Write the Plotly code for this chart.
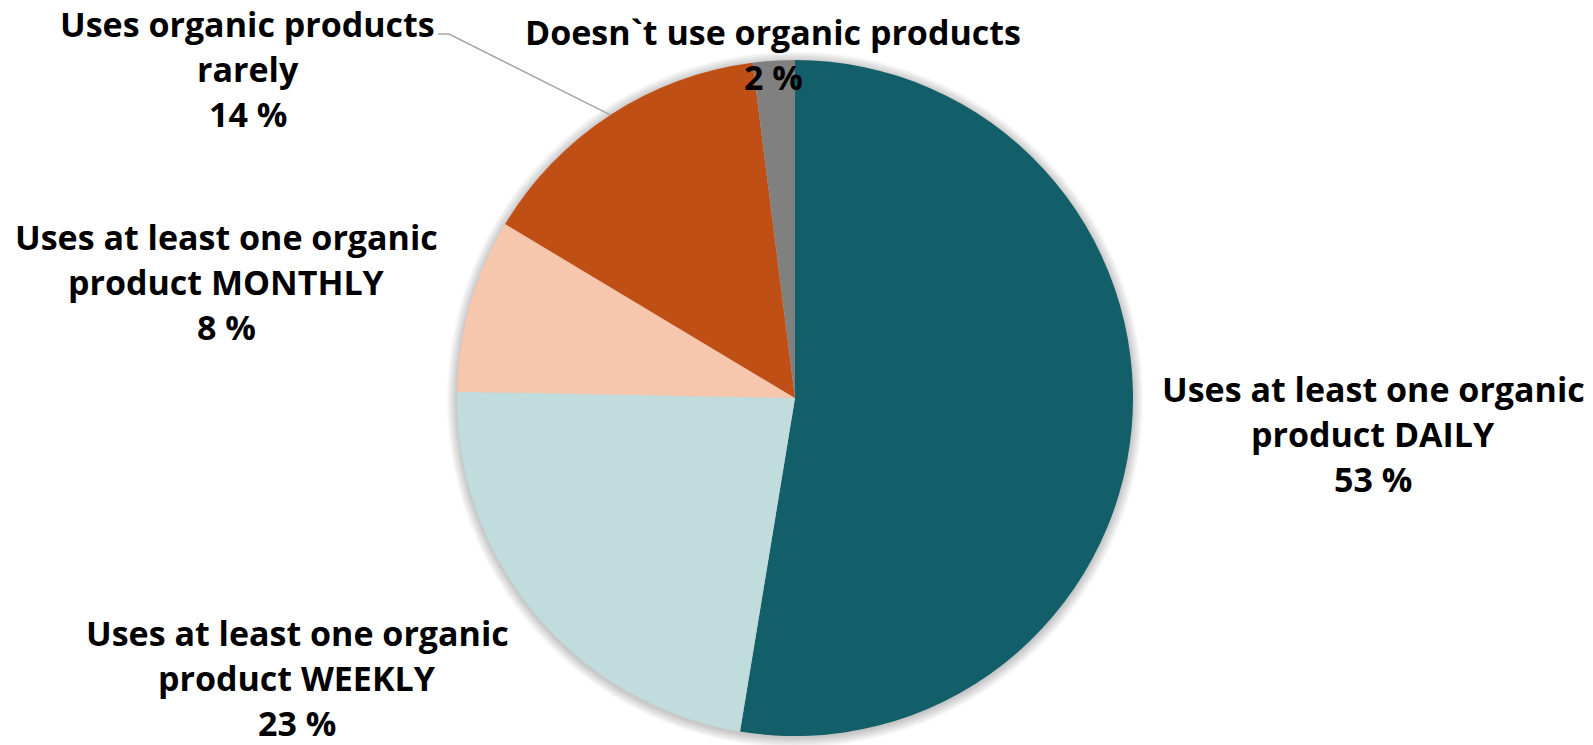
import math
import plotly.graph_objects as go

# ---- data ----
categories = [
    "Uses at least one organic product DAILY",
    "Uses at least one organic product WEEKLY",
    "Uses at least one organic product MONTHLY",
    "Uses organic products rarely",
    "Doesn`t use organic products",
]
label_lines = [
    "Uses at least one organic<br>product DAILY",
    "Uses at least one organic<br>product WEEKLY",
    "Uses at least one organic<br>product MONTHLY",
    "Uses organic products<br>rarely",
    "Doesn`t use organic products",
]
values = [52.6, 22.7, 8.3, 14.4, 2.0]
colors = ["#125E69", "#C0DCDC", "#F6C6AD", "#C04F15", "#808080"]

# ---- layout constants (pixels) ----
W, H = 1593, 745
cx, cy, r = 795, 398, 338
# (x centre, y of first line centre) for each label block
label_pos = [(1373, 389), (297, 633), (227, 237), (248, 24), (773, 32)]
LINE_GAP = 45
FONT = "Open Sans"
FS = 34


def px(x):
    return x / W


def py(y):
    return 1 - y / H


fig = go.Figure()
fig.add_trace(go.Pie(
    labels=categories,
    values=values,
    sort=False,
    direction="clockwise",
    rotation=0,
    marker=dict(colors=colors, line=dict(width=0)),
    textinfo="none",
    hoverinfo="label+percent",
    showlegend=False,
    domain=dict(x=[px(cx - r), px(cx + r)], y=[py(cy + r), py(cy - r)]),
))

shapes = []
# soft shadow around pie
for i in range(14, 0, -1):
    rr = r + i * 0.75
    oy = 1.5
    shapes.append(dict(
        type="circle", xref="paper", yref="paper", layer="below",
        x0=px(cx - rr), x1=px(cx + rr), y0=py(cy + oy + rr), y1=py(cy + oy - rr),
        fillcolor="rgba(0,0,0,0.016)", line=dict(width=0),
    ))

# leader line for the "rarely" slice (end point from slice mid angle)
total = sum(values)
idx = 3
start = sum(values[:idx]) / total
mid = start + values[idx] / total / 2
ang = 2 * math.pi * mid
ex = cx + r * math.sin(ang)
ey = cy - r * math.cos(ang)
x0, y0 = 438, 34
x1 = 449
shapes.append(dict(
    type="path", xref="paper", yref="paper", layer="above",
    path=f"M {px(x0)},{py(y0)} L {px(x1)},{py(y0)} L {px(ex)},{py(ey)}",
    line=dict(color="#A6A6A6", width=1.5),
))

annotations = []
for lab, v, (lx, ly) in zip(label_lines, values, label_pos):
    lines = lab.split("<br>") + [f"{round(v)} %"]
    for k, t in enumerate(lines):
        annotations.append(dict(
            x=px(lx), y=py(ly + k * LINE_GAP), xref="paper", yref="paper",
            text=f"<b>{t}</b>",
            showarrow=False, xanchor="center", yanchor="middle", align="center",
            font=dict(family=FONT, size=FS, color="black"),
        ))

fig.update_layout(
    width=W, height=H,
    margin=dict(l=0, r=0, t=0, b=0),
    paper_bgcolor="white", plot_bgcolor="white",
    shapes=shapes, annotations=annotations,
)
fig.write_html(
    "out.html",
    config={"displayModeBar": False},
    post_script="document.body.style.margin='0px';document.body.style.overflow='hidden';",
)
